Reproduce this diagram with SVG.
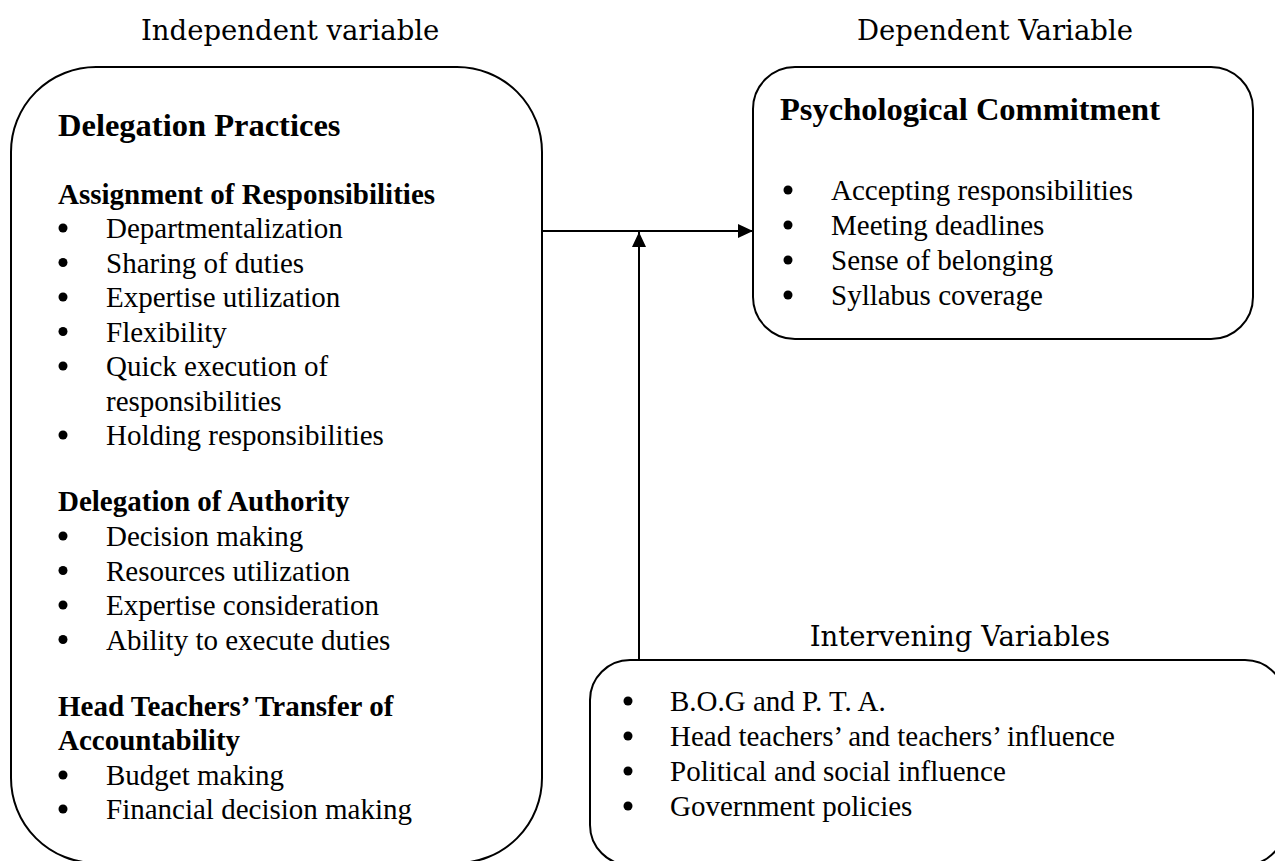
<svg xmlns="http://www.w3.org/2000/svg" width="1275" height="861" viewBox="0 0 1275 861">
<style>
.box{fill:#fff;stroke:#000;stroke-width:2}
.hd{font-family:"DejaVu Serif","Liberation Serif",serif;font-size:27.5px;fill:#000}
.b{font-family:"Liberation Serif","Times New Roman",serif;font-size:29px;font-weight:bold;fill:#000}
.big{font-size:32.5px}
.t{font-family:"Liberation Serif","Times New Roman",serif;font-size:29px;fill:#000}
.conn{stroke:#000;stroke-width:2;fill:none}
</style>
<defs>
<marker id="ah" markerWidth="15" markerHeight="14" refX="15" refY="7" orient="auto" markerUnits="userSpaceOnUse">
<path d="M0,0 L15,7 L0,14 Z" fill="#000"/>
</marker>
<circle id="dot" r="4.5" fill="#000"/>
</defs>
<rect width="1275" height="861" fill="#fff"/>

<text class="hd" x="141" y="40">Independent variable</text>
<text class="hd" x="1133" y="40" text-anchor="end">Dependent Variable</text>
<text class="hd" x="1110" y="646" text-anchor="end">Intervening Variables</text>

<g id="independent">
<rect class="box" x="11" y="67" width="531" height="796" rx="85" ry="85"/>
<text class="b big" x="58" y="136">Delegation Practices</text>
<text class="b" x="58" y="204">Assignment of Responsibilities</text>
<g class="t">
<use href="#dot" x="63" y="228"/><text x="106" y="238">Departmentalization</text>
<use href="#dot" x="63" y="262.5"/><text x="106" y="272.5">Sharing of duties</text>
<use href="#dot" x="63" y="297"/><text x="106" y="307">Expertise utilization</text>
<use href="#dot" x="63" y="331.5"/><text x="106" y="341.5">Flexibility</text>
<use href="#dot" x="63" y="366"/><text x="106" y="376">Quick execution of</text>
<text x="106" y="410.5">responsibilities</text>
<use href="#dot" x="63" y="435"/><text x="106" y="445">Holding responsibilities</text>
</g>
<text class="b" x="58" y="511">Delegation of Authority</text>
<g class="t">
<use href="#dot" x="63" y="536"/><text x="106" y="546">Decision making</text>
<use href="#dot" x="63" y="570.5"/><text x="106" y="580.5">Resources utilization</text>
<use href="#dot" x="63" y="605"/><text x="106" y="615">Expertise consideration</text>
<use href="#dot" x="63" y="639.5"/><text x="106" y="649.5">Ability to execute duties</text>
</g>
<text class="b" x="58" y="716">Head Teachers’ Transfer of</text>
<text class="b" x="58" y="750">Accountability</text>
<g class="t">
<use href="#dot" x="63" y="775"/><text x="106" y="785">Budget making</text>
<use href="#dot" x="63" y="809"/><text x="106" y="819">Financial decision making</text>
</g>
</g>

<g id="dependent">
<rect class="box" x="753" y="67" width="500" height="272" rx="42" ry="42"/>
<text class="b big" x="780" y="120">Psychological Commitment</text>
<g class="t">
<use href="#dot" x="788" y="190"/><text x="831" y="200">Accepting responsibilities</text>
<use href="#dot" x="788" y="225"/><text x="831" y="235">Meeting deadlines</text>
<use href="#dot" x="788" y="260"/><text x="831" y="270">Sense of belonging</text>
<use href="#dot" x="788" y="295"/><text x="831" y="305">Syllabus coverage</text>
</g>
</g>

<g id="intervening">
<rect class="box" x="590" y="660" width="695" height="205" rx="40" ry="40"/>
<g class="t">
<use href="#dot" x="628" y="701"/><text x="670" y="711">B.O.G and P. T. A.</text>
<use href="#dot" x="628" y="736"/><text x="670" y="746">Head teachers’ and teachers’ influence</text>
<use href="#dot" x="628" y="771"/><text x="670" y="781">Political and social influence</text>
<use href="#dot" x="628" y="806"/><text x="670" y="816">Government policies</text>
</g>
</g>

<g id="connectors">
<line class="conn" x1="542" y1="231" x2="753" y2="231" marker-end="url(#ah)"/>
<line class="conn" x1="639" y1="660" x2="639" y2="232" marker-end="url(#ah)"/>
</g>
</svg>
